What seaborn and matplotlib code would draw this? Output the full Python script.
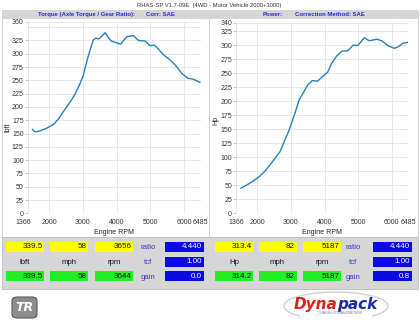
import matplotlib
matplotlib.use("Agg")
import matplotlib.pyplot as plt
import matplotlib.transforms as mtransforms
from matplotlib.patches import Rectangle, FancyBboxPatch, Arc
import pandas as pd
import seaborn as sns

# ---------------- data ----------------
torque_rpm = [1506, 1586, 1734, 1932, 2128, 2276, 2423, 2621, 2769, 2917, 3015, 3115,
              3213, 3311, 3380, 3479, 3560, 3656, 3736, 3834, 3973, 4121, 4219, 4299,
              4494, 4642, 4840, 4988, 5115, 5216, 5382, 5530, 5728, 5926, 6103, 6269, 6467]
torque_lbft = [158, 153, 155, 160, 167, 177, 191, 209, 224, 244, 260, 285,
               307, 326, 329, 328, 333, 339.5, 332, 324, 321, 318, 326, 332,
               334, 325, 324, 315, 316, 310, 298, 291, 279, 263, 254, 252, 246]

power_rpm = [1506, 1685, 1881, 2080, 2229, 2378, 2527, 2676, 2774, 2943, 3122, 3241,
             3340, 3500, 3637, 3797, 3935, 4095, 4214, 4363, 4530, 4690, 4857, 4988,
             5086, 5187, 5333, 5554, 5702, 5899, 6077, 6196, 6327, 6476]
power_hp = [44.6, 50.5, 57.7, 66.6, 75.5, 86.3, 98.2, 110, 124, 148, 179, 202,
            212.5, 229, 237, 236, 244, 252, 268, 281, 290, 290, 300.5, 299.3,
            306.5, 313.4, 308, 311, 308, 299, 294.6, 297.5, 303.6, 305.4]

x_ticks = [1366, 2000, 3000, 4000, 5000, 6000, 6485]
torque_yticks = [0, 25, 50, 75, 100, 125, 150, 175, 200, 225, 250, 275, 300, 325, 360]
power_yticks = [0, 25, 50, 75, 100, 125, 150, 175, 200, 225, 250, 275, 300, 325, 340]

title_text = "RHAS-SP V1.7-09E  (4WD - Motor Vehicle 2000+3000)"
left_header = ["Torque (Axle Torque / Gear Ratio):", "Corr: SAE"]
right_header = ["Power:", "Correction Method: SAE"]

left_row1 = ["339.5", "58", "3656"]
left_row2 = ["lbft", "mph", "rpm"]
left_row3 = ["339.5", "58", "3644"]
right_row1 = ["313.4", "82", "5187"]
right_row2 = ["Hp", "mph", "rpm"]
right_row3 = ["314.2", "82", "5187"]
side_labels = ["ratio", "tcf", "gain"]
left_side_vals = ["4.440", "1.00", "0.0"]
right_side_vals = ["4.440", "1.00", "0.8"]

# ---------------- setup ----------------
sns.set_theme(style="white")
plt.rcParams['font.family'] = ['Liberation Sans', 'DejaVu Sans']

W, H = 420, 324
fig = plt.figure(figsize=(4.2, 3.24), dpi=100, facecolor='white')


def fx(px):
    return px / W


def fy(py):
    return 1 - py / H


def frect(x0, y0, w, h, z=-1, **kw):
    r = Rectangle((fx(x0), fy(y0 + h)), w / W, h / H, transform=fig.transFigure, zorder=z, **kw)
    fig.patches.append(r)
    return r


def ftext(x, y, s, **kw):
    return fig.text(fx(x), fy(y), s, **kw)


# frame / backgrounds (behind axes)
frect(2, 10, 416, 227, z=-3, facecolor='white', edgecolor='#c8c8c8', lw=0.6)
frect(2, 10, 416, 8.5, z=-2, facecolor='#d6d6d6', edgecolor='none')
frect(2, 237, 416, 52, z=-2, facecolor='#d6d6d6', edgecolor='#bdbdbd', lw=0.6)
sep = plt.Line2D([fx(209), fx(209)], [fy(18.5), fy(237)],
                 transform=fig.transFigure, color='#c8c8c8', lw=0.6, zorder=-2)
fig.lines.append(sep)

ftext(209, 5.5, title_text, ha='center', va='center', fontsize=4.2, color='#333333')

hdr_kw = dict(va='center', fontsize=4.3, fontweight='bold', color='#2a2ad0')
ftext(37.7, 14.3, left_header[0], ha='left', **hdr_kw)
ftext(145.7, 14.3, left_header[1], ha='left', **hdr_kw)
ftext(263, 14.3, right_header[0], ha='left', **hdr_kw)
ftext(295, 14.3, right_header[1], ha='left', **hdr_kw)

line_color = '#2580bd'
grid_color = '#e4e4e4'


def style_axes(ax, yticks, ymax, ylabel, ylab_xy, extra_grid):
    ax.set_facecolor('none')
    for s in ax.spines.values():
        s.set_visible(False)
    ax.set_xlim(1366, 6485)
    ax.set_ylim(0, ymax)
    ax.set_xticks(x_ticks)
    ax.set_xticklabels([str(v) for v in x_ticks])
    ax.set_yticks(yticks)
    ax.set_yticklabels([str(v) for v in yticks])
    if extra_grid:
        ax.set_yticks(extra_grid, minor=True)
    ax.set_axisbelow(True)
    ax.grid(True, which='major', color=grid_color, lw=0.6)
    ax.grid(True, which='minor', axis='y', color=grid_color, lw=0.6)
    ax.tick_params(axis='y', which='major', labelsize=5, colors='#bbbbbb', labelcolor='#333333',
                   length=2.2, width=0.5, pad=0.6, left=True)
    ax.tick_params(axis='y', which='minor', length=0)
    ax.tick_params(axis='x', labelsize=5, labelcolor='#333333', length=0, pad=4.2)
    ax.set_xlabel("Engine RPM", fontsize=5, color='#222222')
    ax.xaxis.set_label_coords(0.5, -0.083)
    ax.set_ylabel(ylabel, fontsize=5, color='#222222')
    ax.yaxis.set_label_coords(*ylab_xy)


axL = fig.add_axes([27.6 / W, 1 - 213.3 / H, 173.1 / W, 191.5 / H])
df_t = pd.DataFrame({"rpm": torque_rpm, "lbft": torque_lbft})
sns.lineplot(data=df_t, x="rpm", y="lbft", ax=axL, color=line_color, lw=1.0)
style_axes(axL, torque_yticks, 360, "lbft", (-0.095, 0.45), [350])
first = axL.get_xticklabels()[0]
first.set_transform(first.get_transform() +
                    mtransforms.ScaledTranslation(-4 / 100, 0, fig.dpi_scale_trans))

axR = fig.add_axes([236 / W, 1 - 213.3 / H, 172 / W, 190.4 / H])
df_p = pd.DataFrame({"rpm": power_rpm, "hp": power_hp})
sns.lineplot(data=df_p, x="rpm", y="hp", ax=axR, color=line_color, lw=1.0)
style_axes(axR, power_yticks, 340, "Hp", (-0.095, 0.49), None)

# ---------------- readout boxes ----------------
row_tops = [241.5, 256.5, 271]
box_h = 10.3
box_w = 38


def draw_group(cell_x, row1, row2, row3, label_cx, blue_x, side_vals):
    for i, x in enumerate(cell_x):
        frect(x, row_tops[0], box_w, box_h, z=1, facecolor='#ffff00', edgecolor='none')
        ftext(x + box_w - 1.5, row_tops[0] + box_h / 2 + 0.3, row1[i], ha='right', va='center',
              fontsize=5.8, color='#111111')
        ftext(x + box_w / 2, row_tops[1] + box_h / 2 + 1.2, row2[i], ha='center', va='center',
              fontsize=5.6, color='#111111')
        frect(x, row_tops[2], box_w, box_h, z=1, facecolor='#22ee22', edgecolor='none')
        ftext(x + box_w - 1.5, row_tops[2] + box_h / 2 + 0.3, row3[i], ha='right', va='center',
              fontsize=5.8, color='#111111')
    for j in range(3):
        ftext(label_cx, row_tops[j] + box_h / 2 + 1.0, side_labels[j], ha='center', va='center',
              fontsize=5.6, color='#3535c8')
        frect(blue_x, row_tops[j], box_w + 0.5, box_h, z=1, facecolor='#0a0ae6', edgecolor='none')
        ftext(blue_x + box_w - 1.0, row_tops[j] + box_h / 2 + 0.3, side_vals[j], ha='right',
              va='center', fontsize=5.8, color='white')


draw_group([6, 50, 95], left_row1, left_row2, left_row3, 148, 165, left_side_vals)
draw_group([215, 258.5, 303], right_row1, right_row2, right_row3, 353, 373, right_side_vals)

# ---------------- logos ----------------
tr = FancyBboxPatch((fx(12), fy(318)), 25 / W, 21 / H, boxstyle="round,pad=0,rounding_size=0.012",
                    transform=fig.transFigure, facecolor='#8c8c8c', edgecolor='#5a5a5a', lw=0.8)
fig.patches.append(tr)
ftext(24.5, 307.5, "TR", ha='center', va='center', fontsize=9, fontweight='bold',
      fontstyle='italic', color='white', family=['DejaVu Sans'])

arc = Arc((fx(336), fy(306)), 104 / W, 28 / H, theta1=-20, theta2=200,
          transform=fig.transFigure, color='#d0d0d8', lw=1.0)
fig.patches.append(arc)
ftext(337, 304.5, "Dyna", ha='right', va='center', fontsize=11, fontweight='bold',
      fontstyle='italic', color='#e0201a', family=['DejaVu Sans'])
ftext(337, 304.5, "pack", ha='left', va='center', fontsize=11, fontweight='bold',
      fontstyle='italic', color='#1c2c9c', family=['DejaVu Sans'])
ftext(340, 313.5, "CHASSIS DYNAMOMETERS", ha='center', va='center', fontsize=2.4,
      color='#7a7a9a')

fig.savefig("out.png", dpi=100, facecolor='white')
